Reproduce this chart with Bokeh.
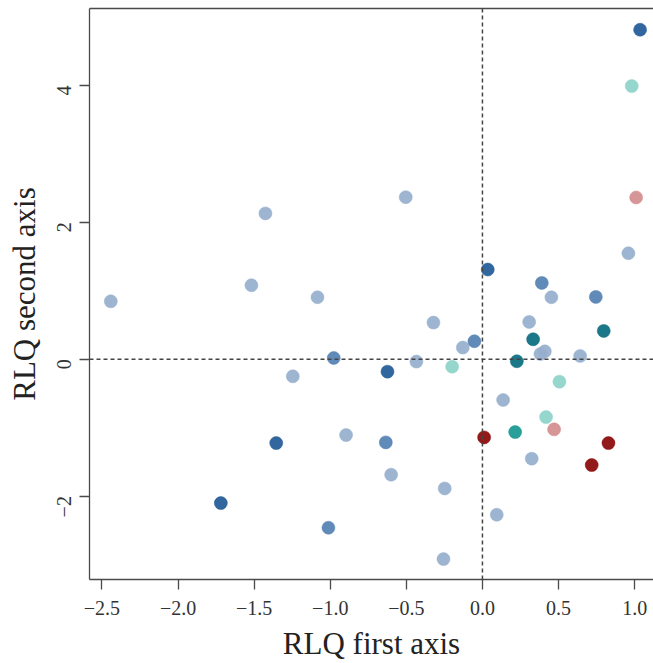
import math
from bokeh.plotting import figure
from bokeh.models import Span, FixedTicker, LinearAxis, ColumnDataSource, Range1d
from bokeh.embed import file_html
from bokeh.resources import INLINE

# ---- data ----
x_vals = [-2.442, -1.426, -1.518, -1.084, -0.504, -0.322, -1.246, -0.896, -0.600,
          -0.248, -0.256, -0.434, -0.129, 0.307, 0.453, 0.381, 0.410, 0.642, 0.959,
          0.136, 0.324, 0.094,
          0.390, 0.745, -0.635, -1.012, -0.977, -0.053,
          1.036, 0.035, -0.624, -1.355, -1.719,
          0.333, 0.797, 0.226,
          0.215,
          0.981, -0.199, 0.506, 0.418,
          0.011, 0.828, 0.718,
          1.010, 0.471]
y_vals = [0.845, 2.130, 1.080, 0.905, 2.367, 0.535, -0.250, -1.108, -1.687,
          -1.888, -2.920, -0.035, 0.170, 0.544, 0.905, 0.076, 0.115, 0.047, 1.548,
          -0.596, -1.453, -2.272,
          1.114, 0.910, -1.215, -2.462, 0.018, 0.262,
          4.813, 1.310, -0.182, -1.225, -2.102,
          0.291, 0.413, -0.030,
          -1.064,
          3.990, -0.109, -0.328, -0.845,
          -1.142, -1.225, -1.546,
          2.362, -1.025]
groups = (["light blue"] * 22 + ["mid blue"] * 6 + ["dark blue"] * 5 +
          ["dark teal"] * 3 + ["teal"] * 1 + ["light teal"] * 4 +
          ["dark red"] * 3 + ["light red"] * 2)
group_colors = {
    "light blue": "#96afcd",
    "mid blue": "#5280b2",
    "dark blue": "#215996",
    "dark teal": "#086c7e",
    "teal": "#179791",
    "light teal": "#8cd2c9",
    "dark red": "#8a0606",
    "light red": "#d38c8d",
}
x_ticks = [-2.5, -2.0, -1.5, -1.0, -0.5, 0.0, 0.5, 1.0]
x_tick_labels = ["\u22122.5", "\u22122.0", "\u22121.5", "\u22121.0", "\u22120.5", "0.0", "0.5", "1.0"]
y_ticks = [-2, 0, 2, 4]
y_tick_labels = ["\u22122", "0", "2", "4"]

FONT = "Liberation Serif"
AXIS_COLOR = "#4a4a4a"

src = ColumnDataSource(dict(x=x_vals, y=y_vals,
                            color=[group_colors[g] for g in groups]))

p = figure(width=653, height=663, output_backend="svg", toolbar_location=None,
           x_range=Range1d(-2.582, 1.124), y_range=Range1d(-3.218, 5.123),
           min_border_left=89, min_border_right=0, min_border_top=8,
           min_border_bottom=84)
p.outline_line_color = None
p.grid.visible = False

p.add_layout(Span(location=0, dimension="height", line_color="#444444",
                  line_dash="4 3", line_width=1.5))
p.add_layout(Span(location=0, dimension="width", line_color="#444444",
                  line_dash="4 3", line_width=1.5))

p.scatter("x", "y", source=src, size=13, fill_color="color", line_color="color",
          fill_alpha=0.92, line_alpha=0.5, line_width=1)

for ax in (p.xaxis[0], p.yaxis[0]):
    ax.axis_line_color = AXIS_COLOR
    ax.axis_line_width = 1.3
    ax.major_tick_line_color = AXIS_COLOR
    ax.major_tick_line_width = 1.3
    ax.major_tick_out = 10
    ax.major_tick_in = 0
    ax.minor_tick_line_color = None
    ax.major_label_text_font = FONT
    ax.major_label_text_font_size = "20px"
    ax.major_label_text_color = "#333333"
    ax.axis_label_text_font = FONT
    ax.axis_label_text_font_size = "31px"
    ax.axis_label_text_font_style = "normal"
    ax.axis_label_text_color = "#222222"

p.xaxis[0].ticker = FixedTicker(ticks=x_ticks)
p.xaxis[0].major_label_overrides = dict(zip(x_ticks, x_tick_labels))
p.xaxis[0].axis_label = "RLQ first axis"
p.xaxis[0].major_label_standoff = 11
p.xaxis[0].axis_label_standoff = 8

p.yaxis[0].ticker = FixedTicker(ticks=y_ticks)
p.yaxis[0].major_label_overrides = dict(zip(y_ticks, y_tick_labels))
p.yaxis[0].axis_label = "RLQ second axis"
p.yaxis[0].major_label_orientation = math.pi / 2
p.yaxis[0].major_label_standoff = 15
p.yaxis[0].axis_label_standoff = 6

top_axis = LinearAxis(ticker=FixedTicker(ticks=[]), major_label_text_font_size="0px",
                      major_tick_out=0, major_tick_in=0, minor_tick_out=0,
                      minor_tick_in=0, major_label_standoff=0,
                      axis_line_color=AXIS_COLOR, axis_line_width=1.3)
p.add_layout(top_axis, "above")

open("out.html", "w").write(file_html(p, INLINE))
